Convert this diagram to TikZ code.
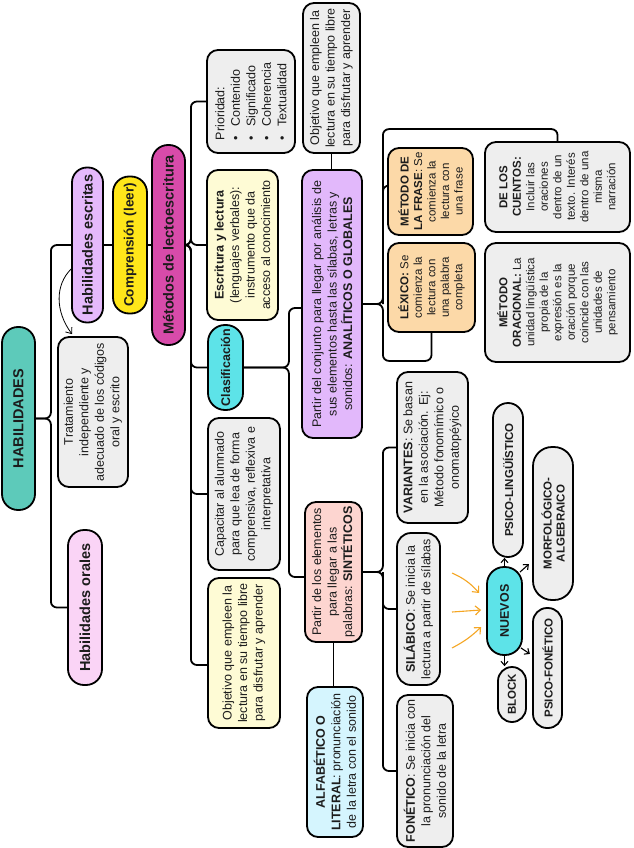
\documentclass[tikz,border=0pt]{standalone}
\usepackage{fontspec}
\setmainfont{Liberation Sans}
\usetikzlibrary{arrows.meta,calc,backgrounds}
\definecolor{txt}{HTML}{1C1C1C}
\definecolor{cteal}{HTML}{5DCABA}
\definecolor{clav}{HTML}{E5B9FB}
\definecolor{cyel}{HTML}{FFE61A}
\definecolor{cmag}{HTML}{D84BAA}
\definecolor{cpinkl}{HTML}{FAD4F6}
\definecolor{cgray}{HTML}{EEEEEE}
\definecolor{ccream}{HTML}{FEFBD5}
\definecolor{ccyan}{HTML}{5DE3E8}
\definecolor{cpurp}{HTML}{E2B8FB}
\definecolor{corg}{HTML}{FCD9A8}
\definecolor{cpink}{HTML}{FDD5D0}
\definecolor{cblue}{HTML}{D5F5FE}
\definecolor{corange}{HTML}{F5A623}
\begin{document}
\begin{tikzpicture}[x=1pt,y=-1pt,
  box/.style={draw=black, line width=1.8pt, rounded corners=11pt, rotate=90, inner sep=0pt, align=center, text=txt, font=\fontsize{12.5}{15.5}\selectfont},
  sz/.style 2 args={minimum width=#2, minimum height=#1},
  pillA/.style={box, font=\bfseries\fontsize{14.5}{17}\selectfont},
  pillB/.style={box, font=\bfseries\fontsize{11.5}{13}\selectfont},
  small/.style={font=\fontsize{11.5}{13.5}\selectfont},
  conn/.style={draw=black, line width=1.8pt, rounded corners=6pt},
  arr/.style={draw=black, line width=1.1pt, -{Straight Barb[length=4pt,width=7pt]}},
  oarr/.style={draw=corange, line width=1.1pt, -{Straight Barb[length=5pt,width=9pt]}}
]
\useasboundingbox (0,0) rectangle (633,848);

% left column
\node[pillA, fill=cteal, sz={33}{183}, rounded corners=16pt] (hab) at (18.5,418.5) {HABILIDADES};
\node[pillA, fill=clav, sz={31}{155}, rounded corners=15pt] (esc) at (87.5,245) {Habilidades escritas};
\node[pillA, fill=cyel, sz={34}{137}, rounded corners=16pt, font=\bfseries\fontsize{13.5}{16}\selectfont] (comp) at (130,245) {Comprensión (leer)};
\node[pillA, fill=cmag, sz={33}{200}, rounded corners=16pt] (met) at (168.5,245) {Métodos de lectoescritura};
\node[pillA, fill=cpinkl, sz={34}{155}, rounded corners=16pt] (orales) at (85,607.5) {Habilidades orales};
\node[box, fill=cgray, sz={70}{150}] (trat) at (93,412) {Tratamiento\\independiente y\\adecuado de los códigos\\oral y escrito};

% second column
\node[box, fill=cgray, sz={88}{103}, align=left] (prio) at (251,101.5) {Prioridad:\\\textbullet\hspace{9pt}Contenido\\\textbullet\hspace{9pt}Significado\\\textbullet\hspace{9pt}Coherencia\\\textbullet\hspace{9pt}Textualidad};
\node[box, fill=ccream, sz={71}{150}] (escr) at (242.5,245) {\textbf{Escritura y lectura}\\(lenguajes verbales):\\instrumento que da\\acceso al conocimiento};
\node[box, fill=ccyan, sz={35}{85}, rounded corners=17pt, font=\bfseries\fontsize{12.5}{15}\selectfont] (clas) at (225.5,367.5) {Clasificación};
\node[box, fill=cgray, sz={72}{152}] (cap) at (244,494) {Capacitar al alumnado\\para que lea de forma\\comprensiva, reflexiva e\\interpretativa};
\node[box, fill=ccream, sz={72}{150}] (objy) at (244,653) {Objetivo que empleen la\\lectura en su tiempo libre\\para disfrutar y aprender};

% third column
\node[box, fill=cgray, sz={57}{150}] (objg) at (331.5,78) {Objetivo que empleen la\\lectura en su tiempo libre\\para disfrutar y aprender};
\node[box, fill=cpurp, sz={60}{268}] (ana) at (332,304) {Partir del conjunto para llegar por análisis de\\sus elementos hasta las sílabas, letras y\\sonidos: \textbf{ANALÍTICOS O GLOBALES}};
\node[box, fill=cpink, sz={57}{140}] (sin) at (333.5,572) {Partir de los elementos\\para llegar a las\\palabras: \textbf{SINTÉTICOS}};
\node[box, fill=cblue, sz={56}{150}] (alf) at (335,762) {\textbf{ALFABÉTICO O}\\\textbf{LITERAL}: pronunciación\\de la letra con el sonido};

% analytic group
\node[box, fill=corg, small, sz={85}{87}] (frase) at (430.5,191.5) {\textbf{MÉTODO DE}\\\textbf{LA FRASE}: Se\\comienza la\\lectura con\\una frase};
\node[box, fill=corg, small, sz={87}{89}] (lex) at (431.5,287.5) {\textbf{LÉXICO:} Se\\comienza la\\lectura con\\una palabra\\completa};
\node[box, fill=cgray, small, sz={145}{90}] (cuentos) at (557.5,187) {\textbf{DE LOS}\\\textbf{CUENTOS:}\\Incluir las\\oraciones\\dentro de un\\texto. Interés\\dentro de una\\misma\\narración};
\node[box, fill=cgray, small, sz={145}{119}] (oracional) at (557.5,302.5) {\textbf{MÉTODO}\\\textbf{ORACIONAL:} La\\unidad lingüística\\propia de la\\expresión es la\\oración porque\\coincide con las\\unidades de\\pensamiento};

% synthetic group
\node[box, fill=cgray, sz={71}{151}] (var) at (432.5,447.5) {\textbf{VARIANTES}: Se basan\\en la asociación. Ej:\\Método fonomímico o\\onomatopéyico};
\node[box, fill=cgray, sz={43}{152}, rounded corners=14pt] (sil) at (418.5,609) {\textbf{SILÁBICO}: Se inicia la\\lectura a partir de sílabas};
\node[box, fill=cgray, sz={56}{152}] (fon) at (425,771) {\textbf{FONÉTICO}: Se inicia con\\la pronunciación del\\sonido de la letra};

% nuevos
\node[pillB, fill=ccyan, sz={35}{88}, rounded corners=17pt, font=\bfseries\fontsize{12.5}{15}\selectfont] (nuevos) at (504.5,611) {NUEVOS};
\node[pillB, fill=cgray, sz={30}{154}, rounded corners=15pt] (psl) at (508,480) {PSICO-LINGÜÍSTICO};
\node[pillB, fill=cgray, sz={40}{153}, rounded corners=19pt] (morf) at (553,523.5) {MORFOLÓGICO-\\ALGEBRAICO};
\node[pillB, fill=cgray, sz={28}{55}, rounded corners=14pt] (block) at (512,694.5) {BLOCK};
\node[pillB, fill=cgray, sz={29}{120}, rounded corners=14pt] (psf) at (547.5,668) {PSICO-FONÉTICO};

\begin{pgfonlayer}{background}
\fill[white] (0,0) rectangle (633,848);
% habilidades
\coordinate (ht) at ($(hab.south)+(15,0)$);
\draw[conn] (hab.south) -- (ht) |- (esc.north);
\draw[conn] (hab.south) -- (ht) |- (orales.north);
\draw[conn] (esc.south) -- (esc.south -| comp.north);
\draw[conn] (comp.south) -- (comp.south -| met.north);
% metodos
\coordinate (mt) at ($(met.south)+(5,0)$);
\draw[conn] (met.south) -- (mt) |- (prio.north);
\draw[conn] (met.south) -- (mt) |- (escr.north);
\draw[conn] (met.south) -- (mt) |- (clas.north);
\draw[conn] (met.south) -- (mt) |- (cap.north);
\draw[conn] (met.south) -- (mt) |- ($(objy.north)+(0,12)$);
% clasificacion
\coordinate (ct) at ($(clas.south)+(45,0)$);
\draw[conn] (clas.south) -- (ct) |- ($(ana.north)+(0,4)$);
\draw[conn] (clas.south) -- (ct) |- ($(sin.north)+(0,5)$);
\draw[conn] (objg.west) -- (objg.west |- ana.east);
\draw[conn] (sin.west) -- (sin.west |- alf.east);
% analiticos
\coordinate (at) at ($(ana.south)+(20,0)$);
\draw[conn] (ana.south) -- (at) |- ($(cuentos.east)+(0,-12)$) -- (cuentos.east);
\draw[conn] (at) |- ($(frase.north)+(0,-6)$);
\draw[conn] (ana.south) -- (at) |- ($(lex.west)+(0,28)$) -- (lex.west);
% sinteticos
\coordinate (st) at ($(sin.south)+(20,0)$);
\draw[conn] (sin.south) -- (st) |- (var.north);
\draw[conn] (st) |- (sil.north);
\draw[conn] (sin.south) -- (st) |- (fon.north);
\end{pgfonlayer}

% curved arrow
\draw[line width=0.8pt, -{Straight Barb[length=5pt,width=8pt]}] ($(esc.north)+(0,24)$) .. controls ($(esc.north)+(-16,40)$) and ($(trat.east)+(-38,-25)$) .. ($(trat.east)+(-21,-2)$);

% nuevos arrows
\draw[arr] (nuevos.east) -- (nuevos.east |- psl.west);
\draw[arr] ($(nuevos.south east)+(-3,6)$) -- ++(9,-8);
\draw[arr] ($(nuevos.south west)+(-2,-8)$) -- ++(9,6);
\draw[arr] (nuevos.west) -- (nuevos.west |- block.east);

% orange arrows
\coordinate (o1) at (452,573);
\coordinate (o2) at (452,612);
\coordinate (o3) at (452,648);
\draw[oarr] (o1) to[bend left=12] ($(nuevos.north)+(-7,-18)$);
\draw[oarr] (o2) -- ($(nuevos.north)+(-5,-1)$);
\draw[oarr] (o3) to[bend right=8] ($(nuevos.north)+(-5,16)$);
\end{tikzpicture}
\end{document}
